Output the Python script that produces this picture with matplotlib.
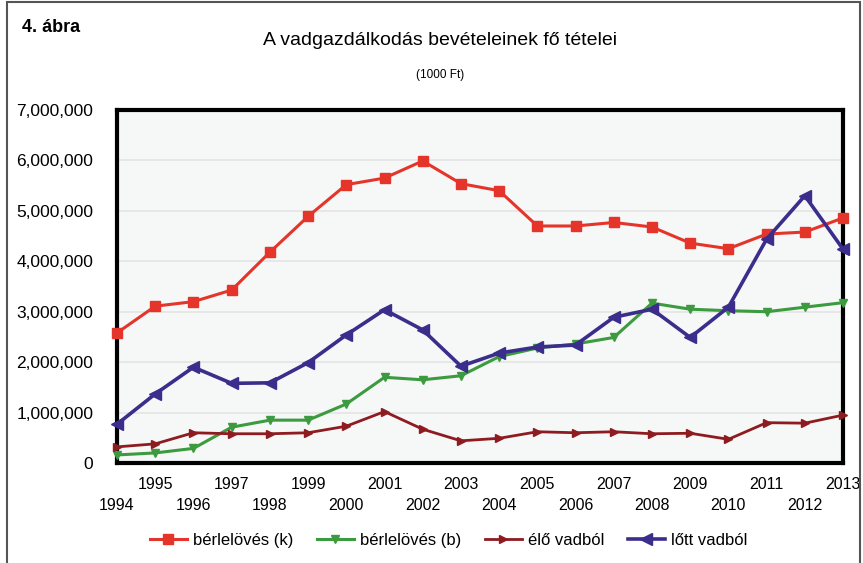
import matplotlib
matplotlib.use("Agg")
import matplotlib.pyplot as plt
from matplotlib.patches import Rectangle
from matplotlib.ticker import FuncFormatter

plt.rcParams['font.family'] = ['Liberation Sans Narrow', 'Liberation Sans', 'DejaVu Sans']

years = list(range(1994, 2014))

# bérlelövés (k)
berle_k = [2580000, 3110000, 3200000, 3430000, 4180000, 4890000, 5520000, 5650000, 5990000, 5540000,
           5400000, 4700000, 4700000, 4770000, 4680000, 4360000, 4250000, 4540000, 4580000, 4860000]
# bérlelövés (b)
berle_b = [160000, 200000, 290000, 710000, 850000, 850000, 1170000, 1700000, 1650000, 1730000,
           2110000, 2280000, 2360000, 2490000, 3170000, 3050000, 3020000, 3000000, 3090000, 3180000]
# élő vadból
elo_vad = [320000, 380000, 600000, 580000, 580000, 600000, 730000, 1020000, 670000, 440000,
           490000, 620000, 600000, 620000, 580000, 590000, 470000, 800000, 790000, 950000]
# lőtt vadból
lott_vad = [770000, 1370000, 1900000, 1580000, 1590000, 1990000, 2540000, 3040000, 2640000, 1920000,
            2180000, 2300000, 2340000, 2890000, 3050000, 2490000, 3090000, 4440000, 5300000, 4240000]

y_ticks = [0, 1000000, 2000000, 3000000, 4000000, 5000000, 6000000, 7000000]

fig = plt.figure(figsize=(8.63, 5.63), dpi=100)
ax = fig.add_axes([0.1356, 0.1776, 0.8413, 0.627])
ax.set_facecolor('#f6f7f7')

ax.plot(years, berle_k, color='#e5352b', lw=2.2, marker='s', ms=7, label='bérlelövés (k)', zorder=3, clip_on=False)
ax.plot(years, berle_b, color='#3c9a3f', lw=2.2, marker='v', ms=6, label='bérlelövés (b)', zorder=3, clip_on=False)
ax.plot(years, elo_vad, color='#8e1b1f', lw=2.0, marker='>', ms=6, label='élő vadból', zorder=3, clip_on=False)
ax.plot(years, lott_vad, color='#3a2d8c', lw=2.6, marker='<', ms=9, label='lőtt vadból', zorder=4, clip_on=False)

ax.set_xlim(1994, 2013)
ax.set_ylim(0, 7000000)
ax.set_yticks(y_ticks)
ax.yaxis.set_major_formatter(FuncFormatter(lambda v, p: f"{int(v):,}"))
ax.grid(axis='y', color='#e4e4e4', lw=1.2)
ax.set_axisbelow(True)

odd = [y for y in years if y % 2 == 1]
even = [y for y in years if y % 2 == 0]
ax.set_xticks(odd)
ax.set_xticklabels([str(y) for y in odd])
ax.set_xticks(even, minor=True)
ax.set_xticklabels([str(y) for y in even], minor=True)
ax.tick_params(axis='x', which='major', length=0, pad=10, labelsize=11.5)
ax.tick_params(axis='x', which='minor', length=0, pad=25, labelsize=11.5)
ax.tick_params(axis='y', length=0, pad=17, labelsize=12.5)

for s in ax.spines.values():
    s.set_linewidth(3)
    s.set_color('black')

fig.text(0.025, 0.952, '4. ábra', fontsize=13, fontweight='bold', ha='left', va='center')
fig.text(0.51, 0.928, 'A vadgazdálkodás bevételeinek fő tételei', fontsize=14, ha='center', va='center')
fig.text(0.51, 0.866, '(1000 Ft)', fontsize=8.5, ha='center', va='center')

fig.legend(loc='center', bbox_to_anchor=(0.52, 0.04), ncol=4, frameon=False,
           fontsize=12, handlelength=2.2, columnspacing=1.4, handletextpad=0.4)

fig.patches.append(Rectangle((0.008, -0.01), 0.988, 1.006, transform=fig.transFigure,
                             fill=False, edgecolor='#555555', lw=1.5))

fig.savefig('out.png', dpi=100)
